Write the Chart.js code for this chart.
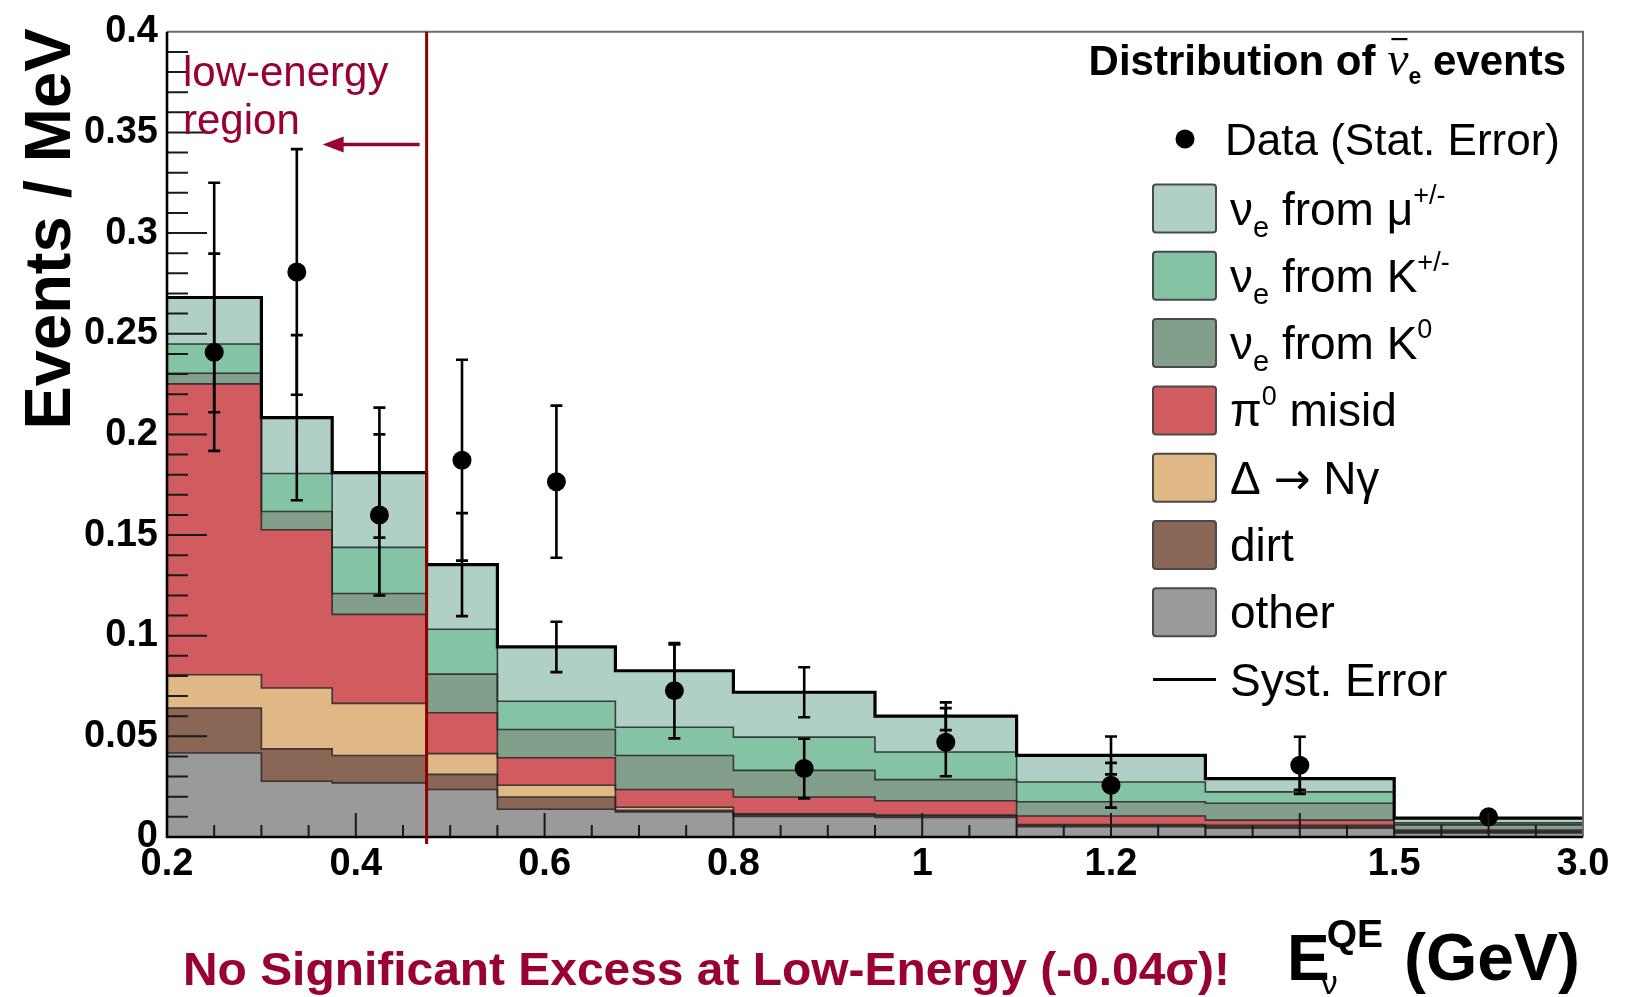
<!DOCTYPE html>
<html>
<head>
<meta charset="utf-8">
<title>Distribution of anti-nu_e events</title>
<script src="https://cdn.jsdelivr.net/npm/chart.js@4.4.1/dist/chart.umd.min.js"></script>
<style>
  html, body { margin: 0; padding: 0; background: #ffffff; }
  canvas { display: block; }
</style>
</head>
<body>
<canvas id="chart" width="1635" height="997"></canvas>
<script>
// Reconstructed-energy bin edges, GeV
const binEdges = [0.2, 0.3, 0.375, 0.475, 0.55, 0.675, 0.8, 0.95, 1.1, 1.3, 1.5, 3.0];

// Predicted background per bin (events / MeV), listed from the bottom of the stack upward
const other       = [0.0417, 0.0277, 0.0269, 0.0236, 0.0138, 0.0125, 0.0102, 0.0097, 0.0051, 0.0044, 0.0020];
const dirt        = [0.0224, 0.0161, 0.0136, 0.0075, 0.0061, 0.0008, 0.0008, 0.0008, 0.0007, 0.0008, 0.0005];
const deltaNgamma = [0.0165, 0.0302, 0.0259, 0.0103, 0.0058, 0.0015, 0.0005, 0.0004, 0.0004, 0.0006, 0.0003];
const pi0Misid    = [0.1445, 0.0786, 0.0442, 0.0203, 0.0137, 0.0088, 0.0084, 0.0071, 0.0042, 0.0026, 0.0007];
const nueFromK0   = [0.0053, 0.0091, 0.0104, 0.0192, 0.0140, 0.0169, 0.0132, 0.0105, 0.0071, 0.0084, 0.0025];
const nueFromKpm  = [0.0145, 0.0189, 0.0229, 0.0223, 0.0140, 0.0140, 0.0165, 0.0137, 0.0098, 0.0056, 0.0010];
const nueFromMu   = [0.0231, 0.0277, 0.0371, 0.0321, 0.0270, 0.0281, 0.0223, 0.0178, 0.0132, 0.0066, 0.0024];

// Systematic uncertainty on the total prediction (+/-)
const mcSystErr   = [0.0570, 0.0410, 0.0323, 0.0256, 0.0125, 0.0130, 0.0124, 0.0069, 0.0094, 0.0055, 0.0010];

// Observed events and their statistical uncertainty (+/-)
const dataEvents  = [0.2408, 0.2807, 0.1600, 0.1872, 0.1765, 0.0727, 0.0340, 0.0471, 0.0257, 0.0356, 0.0100];
const dataStatErr = [0.0490, 0.0610, 0.0400, 0.0499, 0.0378, 0.0237, 0.0148, 0.0169, 0.0111, 0.0142, 0.0020];

// Axis labels
const xTickValues = [0.2, 0.4, 0.6, 0.8, 1.0, 1.2, 1.5, 3.0];
const xTickLabels = ['0.2', '0.4', '0.6', '0.8', '1', '1.2', '1.5', '3.0'];
const yTickLabels = ['0', '0.05', '0.1', '0.15', '0.2', '0.25', '0.3', '0.35', '0.4'];

// Upper edge of the low-energy region, GeV
const lowEnergyCut = 0.475;

// The last bin (1.5 - 3.0 GeV) is drawn compressed to the width of 0.2 GeV
const toDisplay = e => (e <= 1.5 ? e : 1.5 + (e - 1.5) * (0.2 / 1.5));

const nBins = binEdges.length - 1;
const binCenters = binEdges.slice(0, -1).map((lo, i) => (toDisplay(lo) + toDisplay(binEdges[i + 1])) / 2);

const stackOrder = [
  { key: 'other', values: other,       color: '#9a9a9a' },
  { key: 'dirt',  values: dirt,        color: '#8a6656' },
  { key: 'delta', values: deltaNgamma, color: '#dfb886' },
  { key: 'pi0',   values: pi0Misid,    color: '#d15c5f' },
  { key: 'k0',    values: nueFromK0,   color: '#819f8b' },
  { key: 'kpm',   values: nueFromKpm,  color: '#84c3a3' },
  { key: 'mu',    values: nueFromMu,   color: '#b0d0c6' }
];

// cumulative tops of each stacked component
let running = new Array(nBins).fill(0);
const stackTops = stackOrder.map(c => {
  running = running.map((v, i) => v + c.values[i]);
  return running.slice();
});
const mcTotal = stackTops[stackTops.length - 1];

// step outline: one point on each bin's left edge plus the final right edge
function stepPoints(vals) {
  const pts = vals.map((v, i) => ({ x: toDisplay(binEdges[i]), y: v }));
  pts.push({ x: toDisplay(binEdges[nBins]), y: vals[nBins - 1] });
  return pts;
}

const lastIdx = stackOrder.length - 1;
const datasets = [
  {
    type: 'scatter',
    label: 'Data (Stat. Error)',
    data: dataEvents.map((v, i) => ({ x: binCenters[i], y: v })),
    pointRadius: 9.5,
    pointBackgroundColor: '#000',
    pointBorderColor: '#000',
    pointBorderWidth: 0,
    showLine: false,
    order: 0
  },
  ...stackOrder.map((c, k) => ({
    type: 'line',
    label: c.key,
    data: stepPoints(stackTops[k]),
    stepped: true,
    fill: k === 0 ? 'origin' : '-1',
    backgroundColor: c.color,
    borderColor: k === lastIdx ? '#000000' : 'rgba(35,35,35,0.85)',
    borderWidth: k === lastIdx ? 3.2 : 1.6,
    pointRadius: 0,
    order: stackOrder.length - k
  }))
];

const FONT = '"Liberation Sans", Arial, Helvetica, sans-serif';
const CRIMSON = '#990033';

// draws a run of text pieces (for sub/superscripts) starting at x
function drawRuns(ctx, runs, x, y, align) {
  let total = 0;
  runs.forEach(r => {
    ctx.font = r.font;
    r.w = ctx.measureText(r.t).width;
    total += r.w;
  });
  let cx = align === 'right' ? x - total : x;
  runs.forEach(r => {
    ctx.font = r.font;
    ctx.fillStyle = r.color || '#000';
    ctx.fillText(r.t, cx, y + (r.dy || 0));
    if (r.overline) {
      ctx.fillRect(cx + r.w * 0.2, y + r.overline, r.w * 0.75, 2.2);
    }
    cx += r.w;
  });
  return total;
}

const decor = {
  id: 'decor',
  afterDatasetsDraw(chart) {
    const { ctx, chartArea: a, scales } = chart;
    const x = scales.x, y = scales.y;
    ctx.save();

    // error bars: statistical on data, systematic on the total prediction
    ctx.strokeStyle = '#000';
    ctx.lineWidth = 2.6;
    const bar = (xc, lo, hi) => {
      const px = x.getPixelForValue(xc);
      const p1 = y.getPixelForValue(lo), p2 = y.getPixelForValue(hi);
      ctx.beginPath();
      ctx.moveTo(px, p1); ctx.lineTo(px, p2);
      ctx.moveTo(px - 6, p1); ctx.lineTo(px + 6, p1);
      ctx.moveTo(px - 6, p2); ctx.lineTo(px + 6, p2);
      ctx.stroke();
    };
    for (let i = 0; i < nBins; i++) {
      bar(binCenters[i], dataEvents[i] - dataStatErr[i], dataEvents[i] + dataStatErr[i]);
      bar(binCenters[i], mcTotal[i] - mcSystErr[i], mcTotal[i] + mcSystErr[i]);
    }

    // inward tick marks
    ctx.strokeStyle = '#1a1a1a';
    ctx.lineWidth = 2;
    ctx.beginPath();
    for (let k = 1; k < 40; k++) {
      const py = y.getPixelForValue(k / 100);
      const len = k % 5 === 0 ? 40 : 21;
      ctx.moveTo(a.left, py); ctx.lineTo(a.left + len, py);
    }
    for (let k = 1; k < 30; k++) {
      const v = 0.2 + k * 0.05;
      const px = x.getPixelForValue(v);
      const len = Math.round(v * 100) % 20 === 0 ? 24 : 12;
      ctx.moveTo(px, a.bottom); ctx.lineTo(px, a.bottom - len);
    }
    ctx.stroke();

    // frame
    ctx.lineWidth = 2;
    ctx.strokeStyle = '#6e6e6e';
    ctx.beginPath();
    ctx.moveTo(a.left, a.top); ctx.lineTo(a.right, a.top); ctx.lineTo(a.right, a.bottom);
    ctx.stroke();
    ctx.lineWidth = 2.6;
    ctx.strokeStyle = '#000';
    ctx.beginPath();
    ctx.moveTo(a.left, a.top); ctx.lineTo(a.left, a.bottom); ctx.lineTo(a.right, a.bottom);
    ctx.stroke();

    // low-energy boundary, arrow and label
    const cutX = x.getPixelForValue(toDisplay(lowEnergyCut));
    ctx.strokeStyle = '#8b0000';
    ctx.lineWidth = 3;
    ctx.beginPath();
    ctx.moveTo(cutX, a.top); ctx.lineTo(cutX, a.bottom + 7);
    ctx.stroke();

    const arrowY = y.getPixelForValue(0.344);
    ctx.strokeStyle = CRIMSON;
    ctx.fillStyle = CRIMSON;
    ctx.lineWidth = 3.5;
    ctx.beginPath();
    ctx.moveTo(cutX - 7, arrowY); ctx.lineTo(cutX - 85, arrowY);
    ctx.stroke();
    ctx.beginPath();
    ctx.moveTo(cutX - 104, arrowY);
    ctx.lineTo(cutX - 83, arrowY - 8);
    ctx.lineTo(cutX - 83, arrowY + 8);
    ctx.closePath();
    ctx.fill();

    ctx.font = '42px ' + FONT;
    ctx.textAlign = 'left';
    ctx.textBaseline = 'alphabetic';
    ctx.fillText('low-energy', a.left + 16, 86);
    ctx.fillText('region', a.left + 16, 134);

    ctx.restore();
  },

  afterDraw(chart) {
    const { ctx } = chart;
    ctx.save();
    ctx.textBaseline = 'alphabetic';
    ctx.textAlign = 'left';

    // title
    drawRuns(ctx, [
      { t: 'Distribution of ', font: 'bold 42px ' + FONT },
      { t: '\u03bd', font: 'italic 48px "Liberation Serif", serif', overline: -37 },
      { t: 'e', font: 'bold 23px ' + FONT, dy: 9 },
      { t: ' events', font: 'bold 42px ' + FONT }
    ], 1566, 75, 'right');

    // legend
    const lx = 1153, tx = 1230, sw = 63, sh = 48;
    ctx.fillStyle = '#000';
    ctx.beginPath();
    ctx.arc(1185, 139, 9.5, 0, Math.PI * 2);
    ctx.fill();
    drawRuns(ctx, [{ t: 'Data (Stat. Error)', font: '44px ' + FONT }], 1225, 155);

    const big = '46px ' + FONT, sub = '29px ' + FONT, sup = '27px ' + FONT;
    const legendRows = [
      { color: '#b0d0c6', runs: [{ t: '\u03bd', font: big }, { t: 'e', font: sub, dy: 12 }, { t: ' from \u03bc', font: big }, { t: '+/-', font: sup, dy: -21 }] },
      { color: '#84c3a3', runs: [{ t: '\u03bd', font: big }, { t: 'e', font: sub, dy: 12 }, { t: ' from K', font: big }, { t: '+/-', font: sup, dy: -21 }] },
      { color: '#819f8b', runs: [{ t: '\u03bd', font: big }, { t: 'e', font: sub, dy: 12 }, { t: ' from K', font: big }, { t: '0', font: sup, dy: -21 }] },
      { color: '#d15c5f', runs: [{ t: '\u03c0', font: big }, { t: '0', font: sup, dy: -21 }, { t: ' misid', font: big }] },
      { color: '#dfb886', runs: [{ t: '\u0394 ', font: big }, { t: '\u2192', font: '44px "DejaVu Sans", sans-serif' }, { t: ' N\u03b3', font: big }] },
      { color: '#8a6656', runs: [{ t: 'dirt', font: big }] },
      { color: '#9a9a9a', runs: [{ t: 'other', font: big }] }
    ];
    legendRows.forEach((row, i) => {
      const cy = 208.5 + i * 67.3;
      ctx.fillStyle = row.color;
      ctx.strokeStyle = '#4a4a4a';
      ctx.lineWidth = 2;
      ctx.beginPath();
      ctx.roundRect(lx, cy - sh / 2, sw, sh, 3);
      ctx.fill();
      ctx.stroke();
      drawRuns(ctx, row.runs, tx, cy + 16);
    });
    const sy = 208.5 + 7 * 67.3;
    ctx.strokeStyle = '#000';
    ctx.lineWidth = 3;
    ctx.beginPath();
    ctx.moveTo(lx, sy); ctx.lineTo(lx + sw, sy);
    ctx.stroke();
    drawRuns(ctx, [{ t: 'Syst. Error', font: big }], tx, sy + 16);

    // y-axis title
    ctx.save();
    ctx.translate(70, 229);
    ctx.rotate(-Math.PI / 2);
    ctx.font = 'bold 65px ' + FONT;
    ctx.fillStyle = '#000';
    ctx.textAlign = 'center';
    ctx.fillText('Events / MeV', 0, 0);
    ctx.restore();

    // x-axis title: E with superscript QE and subscript nu
    ctx.fillStyle = '#000';
    ctx.font = 'bold 64px ' + FONT;
    const ex = 1287, ey = 980;
    ctx.fillText('E', ex, ey);
    const ew = ctx.measureText('E').width;
    ctx.font = 'bold 39px ' + FONT;
    ctx.fillText('QE', ex + ew - 3, ey - 33);
    const qw = ctx.measureText('QE').width;
    ctx.font = '34px ' + FONT;
    ctx.fillText('\u03bd', ex + ew - 9, ey + 14);
    ctx.font = 'bold 66px ' + FONT;
    ctx.fillText('(GeV)', ex + ew + qw + 18, ey);

    // note about the low-energy result, fitted to its span
    ctx.save();
    ctx.font = 'bold 47px ' + FONT;
    ctx.fillStyle = CRIMSON;
    const note = 'No Significant Excess at Low-Energy (-0.04\u03c3)!';
    const nw = ctx.measureText(note).width;
    ctx.translate(183, 985);
    ctx.scale(1047 / nw, 1);
    ctx.fillText(note, 0, 0);
    ctx.restore();

    ctx.restore();
  }
};

new Chart(document.getElementById('chart'), {
  data: { datasets },
  options: {
    responsive: false,
    animation: false,
    devicePixelRatio: 1,
    layout: { padding: { left: 0, right: 52, top: 28, bottom: 0 } },
    plugins: {
      legend: { display: false },
      tooltip: { enabled: false },
      filler: { propagate: false, drawTime: 'beforeDatasetsDraw' }
    },
    scales: {
      x: {
        type: 'linear',
        min: 0.2,
        max: 1.7,
        grid: { display: false, drawTicks: false },
        border: { display: false },
        afterBuildTicks: s => { s.ticks = xTickValues.map(v => ({ value: toDisplay(v) })); },
        afterFit: s => { s.height = 160; },
        ticks: {
          autoSkip: false,
          maxRotation: 0,
          padding: 5,
          color: '#000',
          font: { family: FONT, size: 38, weight: 'bold' },
          callback: (v, i) => xTickLabels[i]
        }
      },
      y: {
        type: 'linear',
        min: 0,
        max: 0.4,
        grid: { display: false, drawTicks: false },
        border: { display: false },
        afterBuildTicks: s => { s.ticks = yTickLabels.map(l => ({ value: parseFloat(l) })); },
        afterFit: s => { s.width = 167; },
        ticks: {
          padding: 9,
          color: '#000',
          font: { family: FONT, size: 38, weight: 'bold' },
          callback: (v, i) => yTickLabels[i]
        }
      }
    }
  },
  plugins: [decor]
});
</script>
</body>
</html>
